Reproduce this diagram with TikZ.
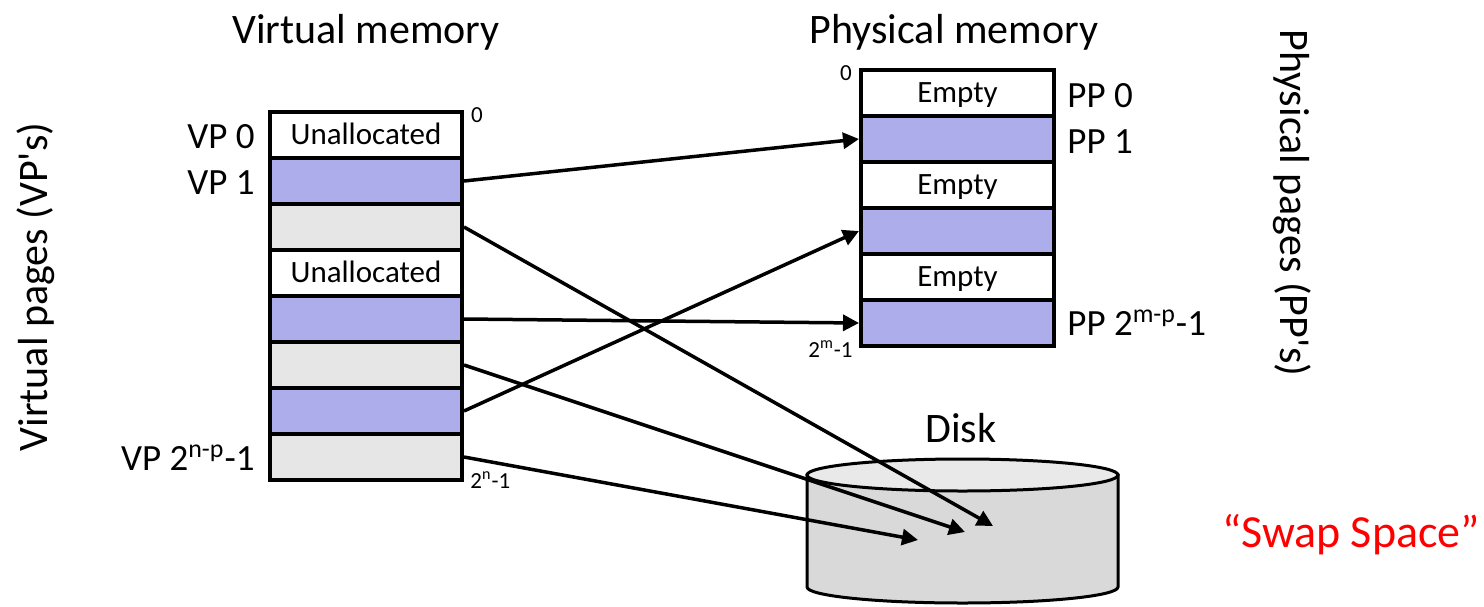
\documentclass[tikz,border=0pt]{standalone}
\usepackage{fontspec}
\setmainfont{Carlito}
\usetikzlibrary{arrows.meta}
\definecolor{pageblue}{RGB}{173,173,235}
\definecolor{pagegray}{RGB}{230,230,230}
\definecolor{diskside}{RGB}{217,217,217}
\definecolor{disktop}{RGB}{233,233,233}

\begin{document}
\begin{tikzpicture}
[every node/.style={inner sep=0pt},
 pagecell/.style={rectangle, minimum width=96pt, minimum height=23pt, text height=9pt, text depth=0pt, line width=2pt, draw=black, font=\fontsize{15.5pt}{18pt}\selectfont},
 memtitle/.style={font=\fontsize{21pt}{25pt}\selectfont},
 pagelabel/.style={font=\fontsize{18.5pt}{22pt}\selectfont},
 addr/.style={font=\fontsize{11.5pt}{14pt}\selectfont},
 map/.style={line width=1.75pt, -{Triangle[length=8pt, width=8pt]}}]
\useasboundingbox (0pt, 0pt) rectangle (742pt, -303pt);
\node (vmtitle) [memtitle, anchor=base] at (183pt, -21.5pt) {Virtual memory};
\node (pmtitle) [memtitle, anchor=base] at (477pt, -21.5pt) {Physical memory};
\node (vp0) [pagecell, fill=white] at (183pt, -67.5pt) {Unallocated};
\node (vp1) [pagecell, fill=pageblue] at (183pt, -90.5pt) {};
\node (vp2) [pagecell, fill=pagegray] at (183pt, -113.5pt) {};
\node (vp3) [pagecell, fill=white] at (183pt, -136.5pt) {Unallocated};
\node (vp4) [pagecell, fill=pageblue] at (183pt, -159.5pt) {};
\node (vp5) [pagecell, fill=pagegray] at (183pt, -182.5pt) {};
\node (vp6) [pagecell, fill=pageblue] at (183pt, -205.5pt) {};
\node (vp7) [pagecell, fill=pagegray] at (183pt, -228.5pt) {};
\node (pp0) [pagecell, minimum width=96.5pt, fill=white] at (478.75pt, -46.5pt) {Empty};
\node (pp1) [pagecell, minimum width=96.5pt, fill=pageblue] at (478.75pt, -69.5pt) {};
\node (pp2) [pagecell, minimum width=96.5pt, fill=white] at (478.75pt, -92.5pt) {Empty};
\node (pp3) [pagecell, minimum width=96.5pt, fill=pageblue] at (478.75pt, -115.5pt) {};
\node (pp4) [pagecell, minimum width=96.5pt, fill=white] at (478.75pt, -138.5pt) {Empty};
\node (pp5) [pagecell, minimum width=96.5pt, fill=pageblue] at (478.75pt, -161.5pt) {};
\node (vp0lbl) [pagelabel, anchor=base east] at (127.5pt, -74.25pt) {VP 0};
\node (vp1lbl) [pagelabel, anchor=base east] at (127.5pt, -97.25pt) {VP 1};
\node (vp7lbl) [pagelabel, anchor=base east] at (127.5pt, -235.25pt) {VP 2\textsuperscript{n-p}-1};
\node (pp0lbl) [pagelabel, anchor=base west] at (533.5pt, -53.5pt) {PP 0};
\node (pp1lbl) [pagelabel, anchor=base west] at (533.5pt, -76.5pt) {PP 1};
\node (pp5lbl) [pagelabel, anchor=base west] at (533.5pt, -167.5pt) {PP 2\textsuperscript{m-p}-1};
\node (vtop) [addr, anchor=base] at (238.5pt, -61pt) {0};
\node (vbot) [addr, anchor=base west] at (235pt, -244pt) {2\textsuperscript{n}-1};
\node (ptop) [addr, anchor=base] at (423pt, -40pt) {0};
\node (pbot) [addr, anchor=base east] at (426.5pt, -178.5pt) {2\textsuperscript{m}-1};
\node (vplabel) [memtitle, rotate=90, anchor=base] at (23.5pt, -143.5pt) {Virtual pages (VP\textquotesingle s)};
\node (pplabel) [memtitle, rotate=-90, anchor=base] at (640pt, -101.5pt) {Physical pages (PP\textquotesingle s)};
% disk
\node (disk) [memtitle, anchor=base] at (480.5pt, -221pt) {Disk};
\filldraw [fill=diskside, line width=1.5pt] (403.5pt, -237.5pt) -- (403.5pt, -293.5pt) arc [start angle=180, end angle=360, x radius=77.75pt, y radius=8pt] -- (559pt, -237.5pt) -- cycle;
\draw [fill=disktop, line width=1.5pt] (481.25pt, -237.5pt) ellipse [x radius=77.75pt, y radius=8pt];
\node (swap) [font=\fontsize{23pt}{27pt}\selectfont, text=red, anchor=base] at (675.5pt, -273.5pt) {“Swap Space”};
\coordinate (d1) at (496.5pt, -263pt);
\coordinate (d2) at (482.5pt, -266pt);
\coordinate (d3) at (459pt, -270pt);
\draw [map] (vp1.east) to (pp1.west);
\draw [map] (vp2.east) to (d1);
\draw [map] (vp4.east) to (pp5.west);
\draw [map] (vp5.east) to (d2);
\draw [map] (vp6.east) to (pp3.west);
\draw [map] (vp7.east) to (d3);
\end{tikzpicture}
\end{document}
